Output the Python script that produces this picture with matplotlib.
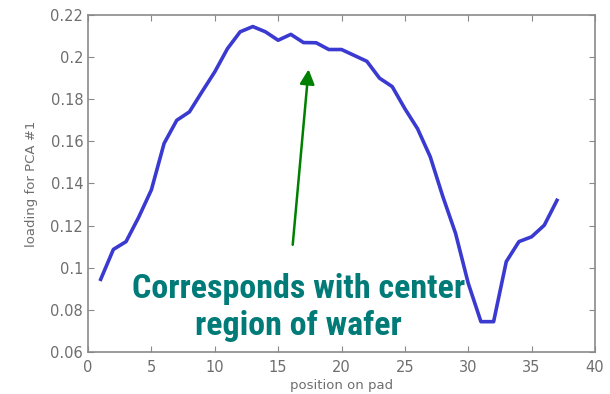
import matplotlib
matplotlib.use("Agg")
import matplotlib.pyplot as plt

# loading values of the first principal component along the pad
position = [1, 2, 3, 4, 5, 6, 7, 8, 9, 10, 11, 12, 13, 14, 15, 16, 17, 18, 19,
            20, 21, 22, 23, 24, 25, 26, 27, 28, 29, 30, 31, 32, 33, 34, 35, 36, 37]
loading = [0.0945, 0.1087, 0.1124, 0.124, 0.137, 0.159, 0.170, 0.174, 0.1836,
           0.193, 0.204, 0.212, 0.2145, 0.212, 0.208, 0.2108, 0.2069, 0.2068,
           0.2036, 0.2036, 0.2008, 0.198, 0.190, 0.186, 0.1755, 0.166, 0.1527,
           0.1337, 0.1163, 0.0926, 0.0744, 0.0744, 0.1029, 0.1124, 0.1147,
           0.1202, 0.132]

xticks = [0, 5, 10, 15, 20, 25, 30, 35, 40]
yticks = [0.06, 0.08, 0.1, 0.12, 0.14, 0.16, 0.18, 0.2, 0.22]
ytick_labels = ["0.06", "0.08", "0.1", "0.12", "0.14", "0.16", "0.18", "0.2", "0.22"]

note_lines = ["Corresponds with center", "region of wafer"]

fig = plt.figure(figsize=(6.1, 3.94), dpi=100)
ax = fig.add_axes([0.1443, 0.1066, 0.8311, 0.8554])

ax.plot(position, loading, color="#3a3ad0", linewidth=2.6)

ax.set_xlim(0, 40)
ax.set_ylim(0.06, 0.22)
ax.set_xticks(xticks)
ax.set_yticks(yticks)
ax.set_yticklabels(ytick_labels)

grey = "#6e6e6e"
for s in ax.spines.values():
    s.set_color("#8a8a8a")
    s.set_linewidth(1.2)
ax.tick_params(direction="in", top=True, right=True, length=4,
               color="#8a8a8a", labelcolor=grey, labelsize=10.5)
ax.tick_params(axis="x", pad=6)
ax.set_xlabel("position on pad", color=grey, fontsize=9.5, labelpad=3)
ax.set_ylabel("loading for PCA #1", color=grey, fontsize=9.5, labelpad=9)

# arrow pointing at the flat top of the curve
ax.annotate("", xy=(17.4, 0.1942), xytext=(16.15, 0.1109),
            arrowprops=dict(arrowstyle="-|>", color="#008000", lw=1.8,
                            mutation_scale=22, shrinkA=0, shrinkB=0))

for text, y in zip(note_lines, [0.0856, 0.0680]):
    ax.text(16.6, y, text, ha="center", va="baseline", color="#007b78",
            fontsize=24.5, fontweight="semibold", family="Roboto Condensed")

fig.savefig("out.png", dpi=100)
